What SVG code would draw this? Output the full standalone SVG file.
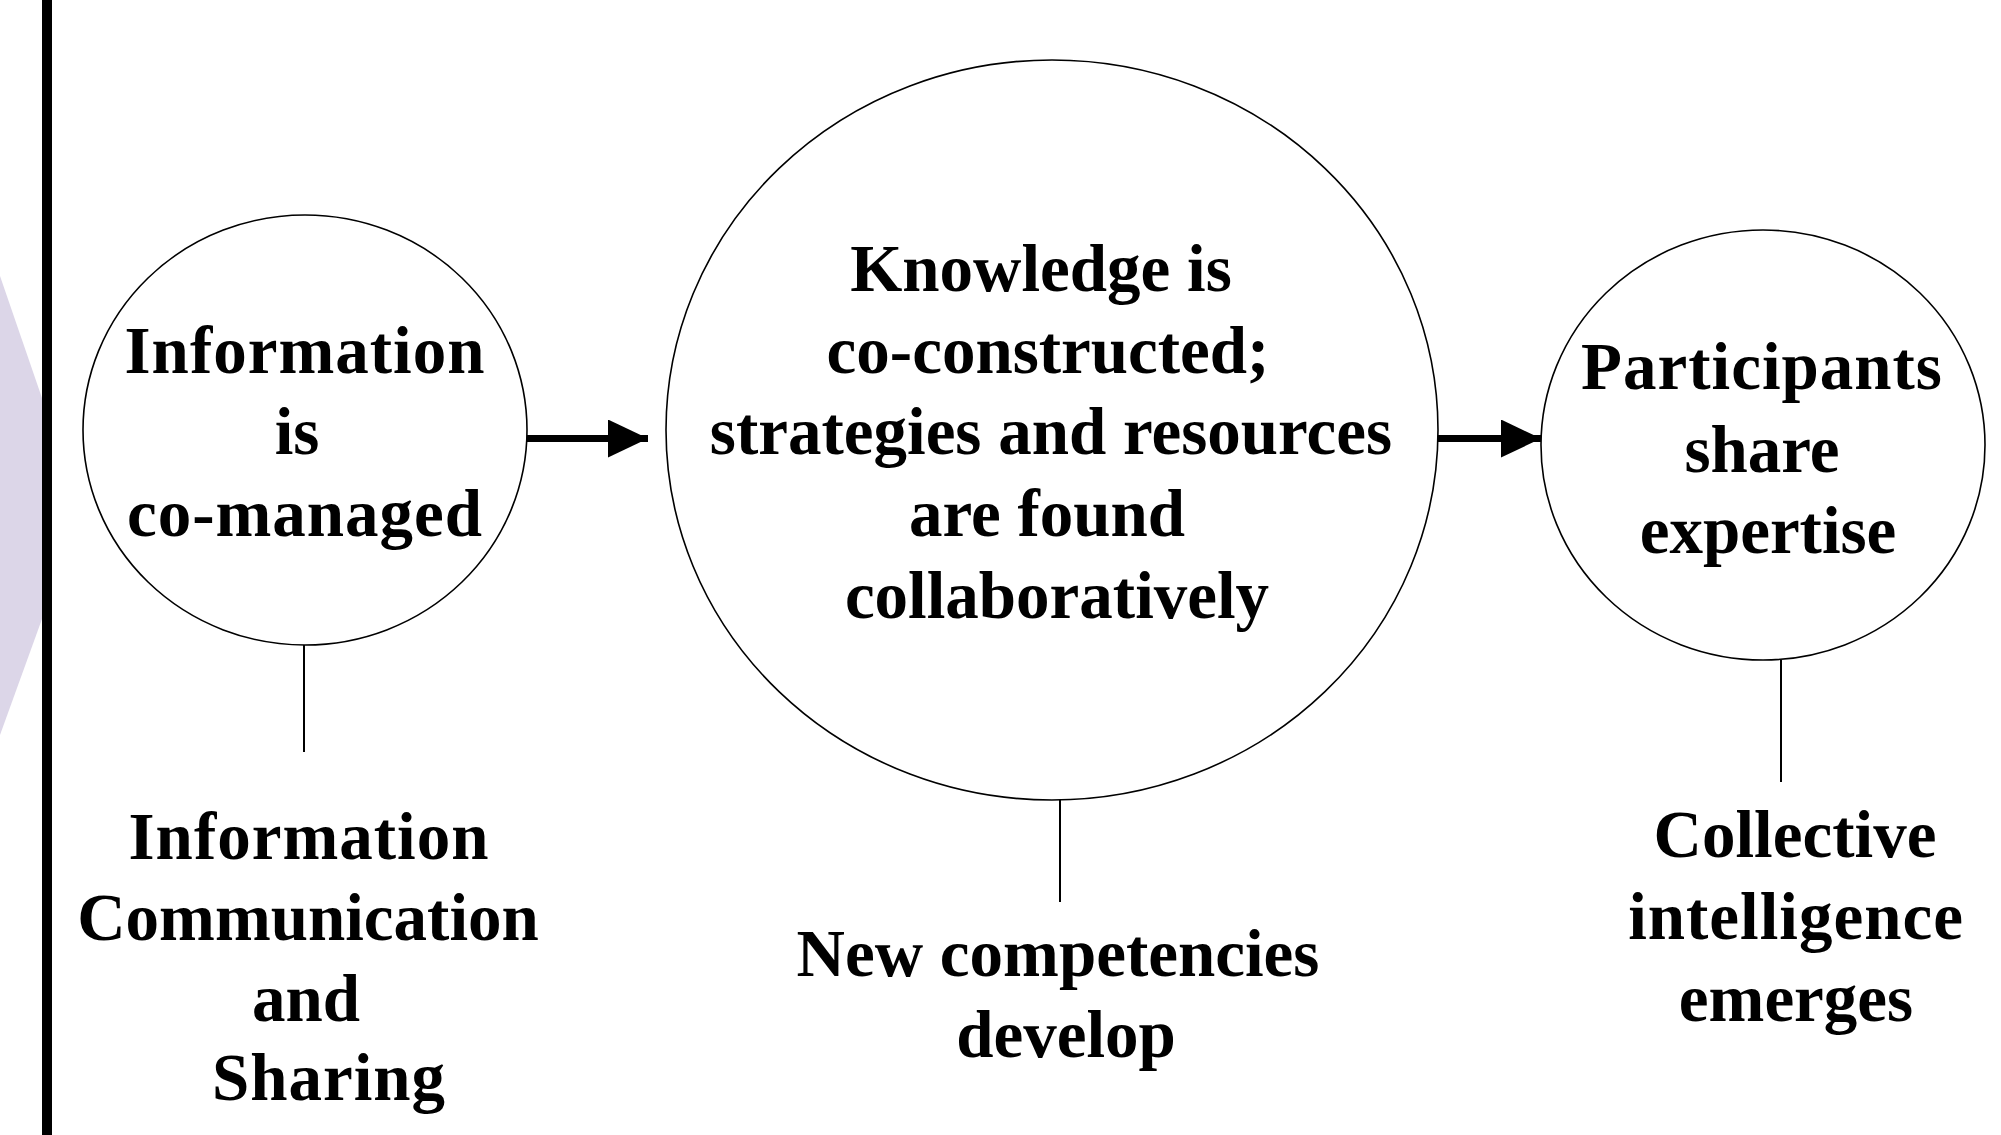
<svg xmlns="http://www.w3.org/2000/svg" width="2001" height="1135" viewBox="0 0 2001 1135">
  <style>
    .node { fill: #ffffff; stroke: #000000; stroke-width: 1.6; }
    .stem { stroke: #000000; stroke-width: 2; fill: none; }
    .flow { stroke: #000000; stroke-width: 7; fill: none; }
    .lbl { font-family: "Liberation Serif", "Times New Roman", serif; font-weight: bold; font-size: 67px; fill: #000000; text-anchor: middle; }
  </style>
  <defs>
    <marker id="head" viewBox="0 0 40 38" refX="40" refY="19" markerWidth="40" markerHeight="38" markerUnits="userSpaceOnUse" orient="auto">
      <path d="M0,0 L40,19 L0,38 Z" fill="#000000"/>
    </marker>
  </defs>

  <rect x="0" y="0" width="2001" height="1135" fill="#ffffff"/>

  <!-- lavender chevron behind the left rule -->
  <polygon points="0,276 42,398 42,619 0,735" fill="#dcd6e8"/>
  <!-- left rule -->
  <rect x="42" y="0" width="10" height="1135" fill="#000000"/>

  <g id="connectors">
    <line class="flow" x1="527" y1="438.5" x2="648" y2="438.5" marker-end="url(#head)"/>
    <line class="flow" x1="1438" y1="438.5" x2="1541" y2="438.5" marker-end="url(#head)"/>
    <line class="stem" x1="304" y1="645" x2="304" y2="752"/>
    <line class="stem" x1="1060" y1="800" x2="1060" y2="902"/>
    <line class="stem" x1="1781" y1="660" x2="1781" y2="782"/>
  </g>

  <g id="node-information">
    <ellipse class="node" cx="305" cy="430" rx="222" ry="215"/>
    <text class="lbl" letter-spacing="1" x="305" y="373">Information</text>
    <text class="lbl" x="297" y="454">is</text>
    <text class="lbl" letter-spacing="1" x="305" y="536">co-managed</text>
  </g>

  <g id="node-knowledge">
    <ellipse class="node" cx="1052" cy="430" rx="386" ry="370"/>
    <text class="lbl" x="1041" y="291">Knowledge is</text>
    <text class="lbl" x="1048" y="373">co-constructed;</text>
    <text class="lbl" x="1051" y="454">strategies and resources</text>
    <text class="lbl" x="1047" y="536">are found</text>
    <text class="lbl" x="1057" y="618">collaboratively</text>
  </g>

  <g id="node-expertise">
    <ellipse class="node" cx="1763" cy="445" rx="222" ry="215"/>
    <text class="lbl" letter-spacing="1" x="1762" y="389">Participants</text>
    <text class="lbl" x="1762" y="472">share</text>
    <text class="lbl" x="1768" y="553">expertise</text>
  </g>

  <g id="label-sharing">
    <text class="lbl" letter-spacing="1" x="309" y="859">Information</text>
    <text class="lbl" x="308" y="940">Communication</text>
    <text class="lbl" x="306" y="1021">and</text>
    <text class="lbl" letter-spacing="1" x="329" y="1100">Sharing</text>
  </g>

  <g id="label-competencies">
    <text class="lbl" x="1058" y="976">New competencies</text>
    <text class="lbl" x="1066" y="1057">develop</text>
  </g>

  <g id="label-intelligence">
    <text class="lbl" x="1795" y="857">Collective</text>
    <text class="lbl" letter-spacing="1" x="1796" y="939">intelligence</text>
    <text class="lbl" x="1796" y="1021">emerges</text>
  </g>
</svg>
